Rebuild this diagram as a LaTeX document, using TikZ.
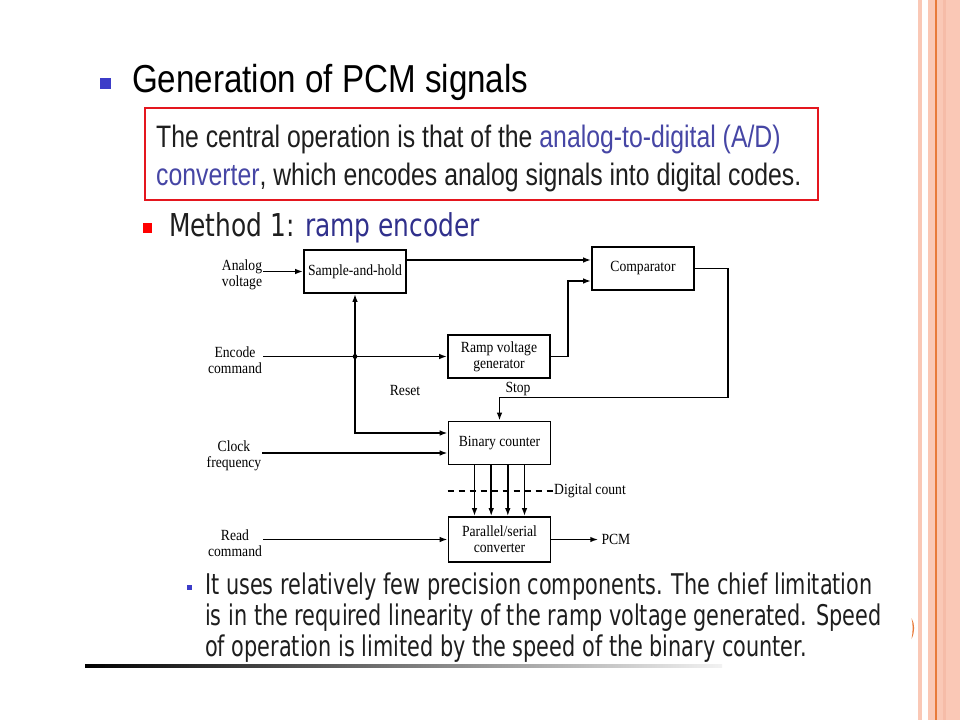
\documentclass[tikz,border=0pt]{standalone}
\usepackage{fontspec}
\usetikzlibrary{arrows.meta,positioning}
\setmainfont{Liberation Sans}
\newfontfamily\titlefont[FakeStretch=0.85]{Liberation Sans}
\newfontfamily\boxfont[FakeStretch=0.80]{Liberation Sans}
\newfontfamily\methodfont[FakeStretch=0.79]{DejaVu Sans}
\newfontfamily\notefont[FakeStretch=0.73]{DejaVu Sans}
\newfontfamily\blockfont[FakeStretch=0.88]{Liberation Serif}
\definecolor{stripepink}{RGB}{250,200,182}
\definecolor{stripeshade}{RGB}{246,188,168}
\definecolor{stripeorange}{RGB}{232,122,58}
\definecolor{boxred}{RGB}{228,22,30}
\definecolor{linkblue}{RGB}{70,70,165}
\definecolor{methodblue}{RGB}{48,48,140}
\definecolor{bulletblue}{RGB}{60,60,200}
\definecolor{textgray}{RGB}{30,30,30}

\begin{document}
\begin{tikzpicture}[x=1pt, y=-1pt,
    block/.style={draw, line width=1.6pt, minimum width=102pt, minimum height=43pt,
        inner sep=0pt, align=center, font=\blockfont\fontsize{15.5}{16}\selectfont},
    inlabel/.style={inner sep=1pt, align=center, font=\blockfont\fontsize{15.5}{16}\selectfont},
    wire/.style={line width=1.6pt},
    arrow/.style={wire, -{Latex[length=8pt, width=5.5pt]}}]
	\useasboundingbox (0,0) rectangle (960,720);
	\fill[white] (0,0) rectangle (960,720);
	% Slide border on the right
	\fill[stripepink] (918,0) rectangle (922,720);
	\fill[stripepink] (928,0) rectangle (960,720);
	\fill[stripeshade] (943,0) rectangle (946,720);
	\draw[stripeorange, line width=1.2pt] (936,0) -- (936,720);
	\fill[stripeorange] (911.5,618) .. controls (915,624) and (915,632) .. (911.5,639)
		.. controls (913,632) and (913,624) .. (911.5,618);
	% Heading and summary
	\fill[bulletblue] (100,78) rectangle (111,89);
	\node[anchor=base west, inner sep=0pt, font=\titlefont\fontsize{39}{44}\selectfont] (title) at (132,92) {Generation of PCM signals};
	\draw[boxred, line width=2.5pt] (145,108) rectangle (818,200);
	\node[anchor=base west, inner sep=0pt, align=left, text=textgray, font=\boxfont\fontsize{31}{38}\selectfont] (summary) at (156,185)
		{The central operation is that of the \textcolor{linkblue}{analog-to-digital (A/D)}\\\textcolor{linkblue}{converter}, which encodes analog signals into digital codes.};
	\fill[red] (143,223) rectangle (152,233);
	\node[anchor=base west, inner sep=0pt, text=textgray, font=\methodfont\fontsize{31.5}{36}\selectfont] (method) at (169,236) {Method 1: \textcolor{methodblue}{ramp encoder}};
	% Draw the blocks
	\node[block] (sh)   at (355,271.5) {Sample-and-hold};
	\node[block] (cmp)  at (643,268.5) {\raisebox{-2pt}{Comparator}};
	\node[block] (ramp) at (499,356.5) {Ramp voltage\\generator};
	\node[block] (cnt)  at (499.5,443) {Binary counter};
	\node[block, minimum height=45pt] (ps) at (499.5,539.5) {Parallel/serial\\converter};
	% Input and output labels
	\node[inlabel] (analog) at (242,275) {Analog\\voltage};
	\node[inlabel] (encode) at (235,360) {Encode\\command};
	\node[inlabel] (clock)  at (234,456) {Clock\\frequency};
	\node[inlabel] (read)   at (235,543) {Read\\command};
	\node[inlabel] (reset)  at (405,390) {Reset};
	\node[inlabel] (stop)   at (518,389) {Stop};
	\node[inlabel, anchor=west] (count) at (553,491) {Digital count};
	\node[inlabel, inner sep=3pt, right=47pt of ps] (pcm) {PCM};
	% Connect the blocks
	\coordinate (junc) at (sh.south |- ramp.west);
	\draw[arrow] (sh.west -| analog.east) -- (sh.west);
	\draw[arrow] ([yshift=11.5pt]sh.east) -- ([yshift=11.5pt]sh.east -| cmp.west);
	\draw[arrow] (ramp.west -| encode.east) -- (ramp.west);
	\draw[arrow] (ramp.east) -- ++(17,0) |- ([yshift=-12.5pt]cmp.west);
	\draw[arrow] (cmp.east) -- ++(33,0) -- ++(0,129) -| (cnt.north);
	\fill (junc) circle (2.4pt);
	\draw[arrow] (junc) -- (sh.south);
	\draw[arrow] (junc) |- ([yshift=10pt]cnt.west);
	\draw[arrow] ([yshift=-10pt]cnt.west -| clock.east) -- ([yshift=-10pt]cnt.west);
	\path
		([xshift=-25pt]cnt.south) edge[arrow] ([xshift=-25pt]ps.north)
		([xshift=-8.3pt]cnt.south) edge[arrow] ([xshift=-8.3pt]ps.north)
		([xshift=8.3pt]cnt.south) edge[arrow] ([xshift=8.3pt]ps.north)
		([xshift=25pt]cnt.south) edge[arrow] ([xshift=25pt]ps.north);
	\draw[wire, dash pattern=on 6pt off 5pt] (count.west -| cnt.west) -- (count.west);
	\draw[arrow] (ps.west -| read.east) -- (ps.west);
	\draw[arrow] (ps) -- (pcm);
	% Closing remark
	\fill[bulletblue] (187,585) rectangle (192,590);
	\node[anchor=base west, inner sep=0pt, align=left, text=textgray, font=\notefont\fontsize{28.5}{31}\selectfont] (note) at (205,656)
		{It uses relatively few precision components. The chief limitation\\is in the required linearity of the ramp voltage generated. Speed\\of operation is limited by the speed of the binary counter.};
	\shade[left color=black, middle color=gray!80, right color=gray!10] (85,664.5) rectangle (722,667.5);
\end{tikzpicture}
\end{document}
